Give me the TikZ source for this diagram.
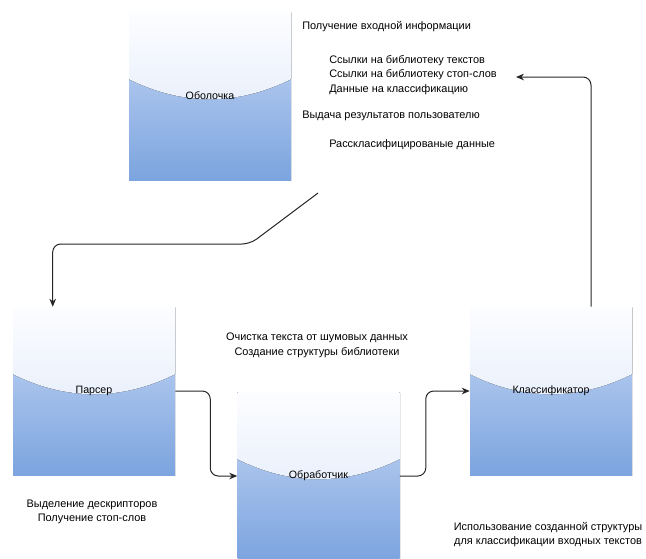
\documentclass[tikz,border=0pt]{standalone}
\usepackage{fontspec}
\setmainfont{Liberation Sans}
\usetikzlibrary{arrows.meta, shadows, calc}

\definecolor{boxtop}{RGB}{200,217,245}
\definecolor{boxbot}{RGB}{124,164,223}
\definecolor{glasstop}{RGB}{252,253,255}
\definecolor{glassbot}{RGB}{218,229,248}

\begin{document}
\begin{tikzpicture}[
    x=0.75pt, y=-0.75pt,
    block/.style={rectangle, minimum width=121.5pt, minimum height=126pt, top color=boxtop, bottom color=boxbot, font=\fontsize{8}{9}\selectfont,
        drop shadow={opacity=0.2, shadow xshift=1pt, shadow yshift=-1pt},
        path picture={\fill[top color=glasstop, bottom color=glassbot]
            (path picture bounding box.north west)
            -- ($(path picture bounding box.north west)+(0pt,-50.4pt)$)
            .. controls ($(path picture bounding box.north west)+(40pt,-70.4pt)$)
            and ($(path picture bounding box.north east)+(-40pt,-70.4pt)$)
            .. ($(path picture bounding box.north east)+(0pt,-50.4pt)$)
            -- (path picture bounding box.north east) -- cycle;}},
    lbl/.style={font=\fontsize{8.2}{10.9}\selectfont, inner sep=0pt},
    arr/.style={-{Stealth[length=6pt, width=5pt]}, draw=black!85, line width=0.75pt, rounded corners=6pt}
]
\useasboundingbox (0,0) rectangle (646,558);

% blocks
\node[block] (shell) at (210,96) {Оболочка};
\node[block] (parser) at (94,391) {Парсер};
\node[block] (handler) at (318.5,476) {Обработчик};
\node[block] (classifier) at (551,391) {Классификатор};

% descriptions
\node[lbl, anchor=west] (inhead) at (302,27) {Получение входной информации};
\node[lbl, anchor=west, align=left] (inlist) at (329,75) {Ссылки на библиотеку текстов\\Ссылки на библиотеку стоп-слов\\Данные на классификацию};
\node[lbl, anchor=west] (outhead) at (302,116) {Выдача результатов пользователю};
\node[lbl, anchor=west] (outlist) at (329,145) {Расскласифицированые данные};
\node[lbl, align=center] (handlerdesc) at (317,345.5) {Очистка текста от шумовых данных\\Создание структуры библиотеки};
\node[lbl, align=center] (parserdesc) at (92,512) {Выделение дескрипторов\\Получение стоп-слов};
\node[lbl, align=center] (classdesc) at (548,534.5) {Использование созданной структуры\\для классификации входных текстов};

% connectors
\coordinate (shellout) at (318,193);
\coordinate (shellin) at (516,77);
\draw[arr] (shellout) -- (250,244) -| ([xshift=30pt]parser.north west);
\draw[arr] (parser.east) -- ++(35,0) |- (handler.west);
\draw[arr] (handler.east) -- ++(26,0) |- (classifier.west);
\draw[arr] ([xshift=30pt]classifier.north) |- (shellin);

\end{tikzpicture}
\end{document}
